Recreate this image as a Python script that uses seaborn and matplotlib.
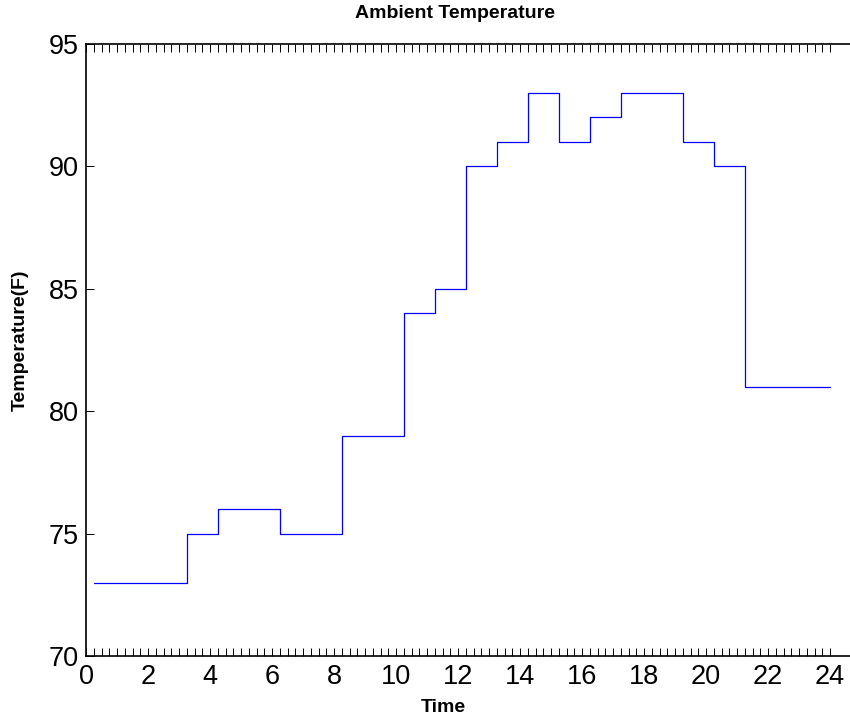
import numpy as np
import pandas as pd
import matplotlib
matplotlib.use("Agg")
import matplotlib.pyplot as plt
from matplotlib.ticker import FixedLocator
import seaborn as sns

# Data (hourly ambient temperature, step plot)
time_h = [0.25, 1.25, 2.25, 3.25, 4.25, 5.25, 6.25, 7.25, 8.25, 9.25, 10.25, 11.25,
          12.25, 13.25, 14.25, 15.25, 16.25, 17.25, 18.25, 19.25, 20.25, 21.25, 22.25, 23.25, 24.0]
temp_f = [73, 73, 73, 75, 76, 76, 75, 75, 79, 79, 84, 85,
          90, 91, 93, 91, 92, 93, 93, 91, 90, 81, 81, 81, 81]
x_ticks = [0, 2, 4, 6, 8, 10, 12, 14, 16, 18, 20, 22, 24]
y_ticks = [70, 75, 80, 85, 90, 95]

df = pd.DataFrame({"Time": time_h, "Temp": temp_f})

sns.set_style("white")
plt.rcParams["font.family"] = ["Liberation Sans", "DejaVu Sans"]
plt.rcParams["text.color"] = "black"
plt.rcParams["xtick.color"] = "black"
plt.rcParams["ytick.color"] = "black"
plt.rcParams["axes.labelcolor"] = "black"

W, H = 850, 723
fig = plt.figure(figsize=(W / 100, H / 100), dpi=100)
ax_left, ax_right, ax_top, ax_bot = 86, 861, 44, 656
ax = fig.add_axes([ax_left / W, 1 - ax_bot / H, (ax_right - ax_left) / W, (ax_bot - ax_top) / H])

sns.lineplot(data=df, x="Time", y="Temp", ax=ax, drawstyle="steps-post",
             color="#0000FF", linewidth=0.9, estimator=None, sort=False)

ax.set_xlim(0, 25)
ax.set_ylim(70, 95)
ax.set_xticks(x_ticks)
ax.set_yticks(y_ticks)
ax.xaxis.set_minor_locator(FixedLocator(np.arange(0, 24.001, 0.25)))
ax.tick_params(axis="x", which="both", direction="in", top=True, bottom=True,
               length=5.5, width=0.7, colors="black", labelsize=19.5, pad=6)
ax.tick_params(axis="y", which="major", direction="in", left=True, right=False,
               length=6, width=0.7, colors="black", labelsize=19.5, pad=5)

for s in ["left", "top", "bottom", "right"]:
    ax.spines[s].set_color("black")
    ax.spines[s].set_linewidth(1.2)

ax.set_xlabel("")
ax.set_ylabel("")
fig.text(455 / W, 1 - 13 / H, "Ambient Temperature", ha="center", va="center",
         fontsize=14, fontweight="bold", color="black")
fig.text(443 / W, 1 - 708 / H, "Time", ha="center", va="center",
         fontsize=14, fontweight="bold", color="black")
fig.text(20 / W, 1 - 340 / H, "Temperature(F)", ha="center", va="center",
         rotation=90, fontsize=14, fontweight="bold", color="black")

fig.savefig("out.png", dpi=100)
